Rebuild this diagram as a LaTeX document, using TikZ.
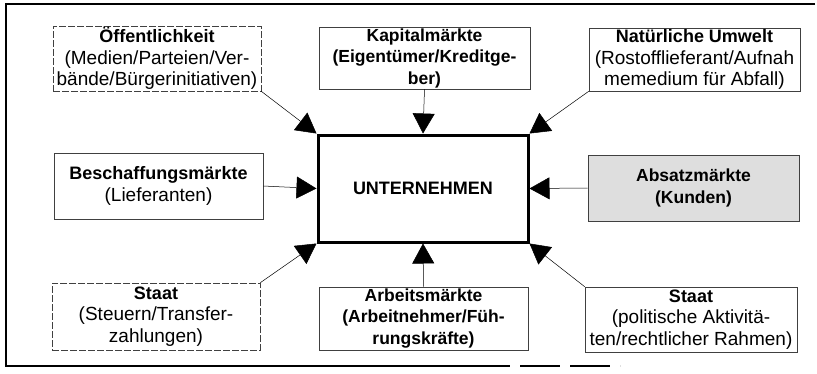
\documentclass[tikz,border=0pt]{standalone}
\usepackage{fontspec}
\setmainfont{Liberation Sans}
\usetikzlibrary{arrows.meta}
\tikzset{
  side/.style={draw=black!75, line width=0.6pt, inner sep=0pt, align=center,
    font=\fontsize{19}{21.5}\selectfont},
  boldside/.style={side, font=\fontsize{17.5}{21.5}\selectfont\bfseries},
  dashbox/.style={side, dash pattern=on 7pt off 2pt},
  centre/.style={draw=black, line width=3pt, inner sep=0pt, align=center,
    minimum width=210pt, minimum height=107pt, font=\fontsize{18}{21.5}\selectfont\bfseries},
  link/.style={draw=black, line width=0.5pt, -{Triangle[length=20pt,width=22pt]}},
  frame/.style={draw=black, line width=2.2pt}
}
\newcommand{\hd}[1]{{\fontsize{18}{21.5}\selectfont\bfseries #1}}
\begin{document}
\begin{tikzpicture}[x=1pt,y=-1pt]
\useasboundingbox (0,0) rectangle (817,373);
% outer frame
\draw[frame] (815,4) -- (6,4) -- (6,366) -- (470,366);
\draw[frame, dash pattern=on 40pt off 10pt] (470,366) -- (620,366);

\node[centre] (unt) at (423,188.5) {UNTERNEHMEN};

\node[dashbox, minimum width=208pt, minimum height=65pt] (oeff) at (157,58.5)
  {\hd{Öffentlichkeit}\\(Medien/Parteien/Ver-\\bände/Bürgerinitiativen)};
\node[boldside, minimum width=211pt, minimum height=62pt] (kap) at (424.5,58)
  {Kapitalmärkte\\(Eigentümer/Kreditge-\\ber)};
\node[side, minimum width=211pt, minimum height=63pt] (natur) at (694.5,59.5)
  {\hd{Natürliche Umwelt}\\(Rostofflieferant/Aufnah\\memedium für Abfall)};
\node[side, minimum width=209pt, minimum height=66pt] (besch) at (158.5,186)
  {\hd{Beschaffungsmärkte}\\(Lieferanten)};
\node[boldside, fill=black!13, minimum width=211pt, minimum height=66pt] (absatz) at (693.5,188)
  {Absatzmärkte\\(Kunden)};
\node[dashbox, minimum width=208pt, minimum height=67pt] (staatl) at (156,316.5)
  {\hd{Staat}\\(Steuern/Transfer-\\zahlungen)};
\node[boldside, minimum width=209pt, minimum height=63pt] (arbeit) at (423.5,318.5)
  {Arbeitsmärkte\\(Arbeitnehmer/Füh-\\rungskräfte)};
\node[side, minimum width=212pt, minimum height=65pt] (staatr) at (691,319.5)
  {\hd{Staat}\\(politische Aktivitä-\\ten/rechtlicher Rahmen)};

\draw[link] (oeff.south east) -- (unt.north west);
\draw[link] (kap.south) -- (unt.north);
\draw[link] (natur.south west) -- (unt.north east);
\draw[link] (besch.east) -- (unt.west);
\draw[link] (absatz.west) -- (unt.east);
\draw[link] (staatl.north east) -- (unt.south west);
\draw[link] (arbeit.north) -- (unt.south);
\draw[link] (staatr.north west) -- (unt.south east);
\end{tikzpicture}
\end{document}
